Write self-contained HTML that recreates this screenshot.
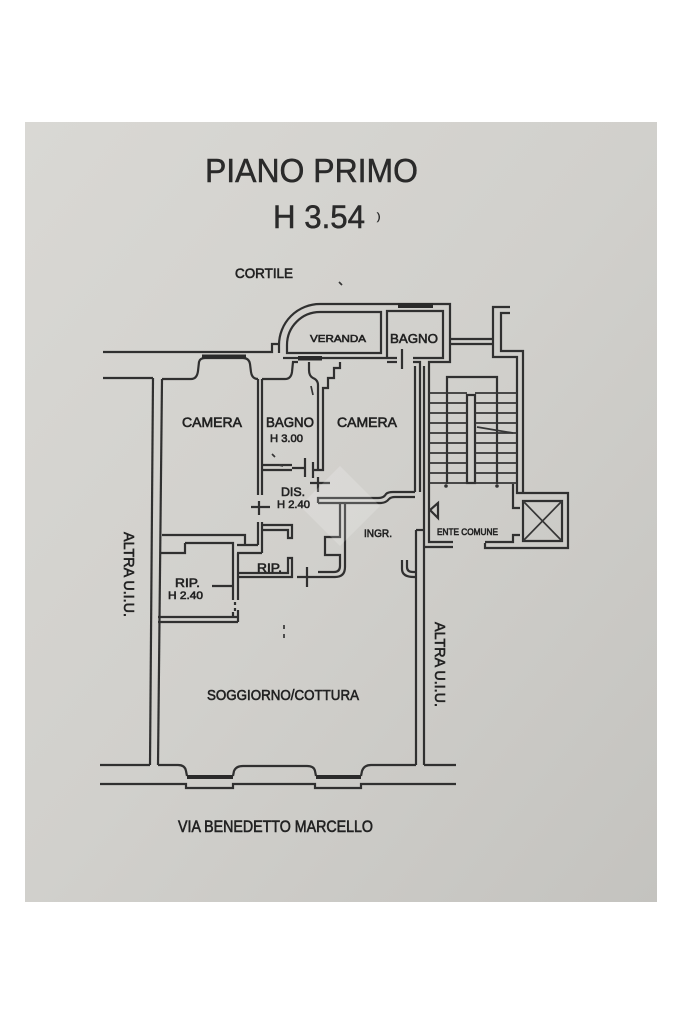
<!DOCTYPE html>
<html>
<head>
<meta charset="utf-8">
<style>
  html,body{margin:0;padding:0;background:#ffffff;}
  body{width:683px;height:1025px;overflow:hidden;}
  svg{display:block;}
  .w{fill:none;stroke:#303030;stroke-width:2.2;stroke-linejoin:miter;}
  .t{fill:none;stroke:#363636;stroke-width:1.7;}
  .lb{font-family:"Liberation Sans",Arial,sans-serif;fill:#222;stroke:#222;stroke-width:0.6;}
  .ti{font-family:"Liberation Sans",Arial,sans-serif;fill:#2a2a2a;stroke:#2a2a2a;stroke-width:0.5;}
</style>
</head>
<body>
<svg width="683" height="1025" viewBox="0 0 683 1025" xmlns="http://www.w3.org/2000/svg">
  <defs>
    <linearGradient id="paper" x1="0" y1="0" x2="1" y2="1">
      <stop offset="0" stop-color="#d9d8d4"/>
      <stop offset="0.5" stop-color="#d1d0cc"/>
      <stop offset="1" stop-color="#c4c3bf"/>
    </linearGradient>
  </defs>
  <rect x="0" y="0" width="683" height="1025" fill="#ffffff"/>
  <rect x="25" y="122" width="632" height="780" fill="url(#paper)"/>

  <!-- Titles -->
  <text class="ti" x="205" y="182" font-size="33" textLength="213" lengthAdjust="spacingAndGlyphs">PIANO PRIMO</text>
  <text class="ti" x="273" y="228" font-size="32" textLength="92" lengthAdjust="spacingAndGlyphs">H 3.54</text>
  <text class="ti" x="377" y="220" font-size="10" stroke-width="0.2">)</text>
  <text class="lb" x="235" y="278" font-size="13.5" textLength="58" lengthAdjust="spacingAndGlyphs">CORTILE</text>
  <path d="M339,282 L342,285" class="t"/>

  <!-- Courtyard facade -->
  <path class="w" d="M103,352 H272 V344 H279"/>
  <path class="w" d="M103,378 H153"/>
  <!-- left exterior wall -->
  <path class="w" d="M153,378 L150,765"/>
  <path class="w" d="M162,379 L158,765"/>
  <!-- left camera top face with window -->
  <path class="w" d="M162,379 H191 Q197,379 198,371 L199,362 Q200,358 205,358 H243 Q249,358 250,364 L251,372 Q252,379 258,379"/>
  <rect x="202" y="354.5" width="44" height="4" fill="#2a2a2a"/>

  <!-- Veranda -->
  <path class="w" d="M279,353 V345 A41,41 0 0 1 320,304 H450 V362 H429 V542 H453"/>
  <path class="w" d="M287,353 V345 A33,33 0 0 1 320,312 H381 V353 Z"/>
  <path class="w" d="M387,358 V311 H443 V358 H413"/>
  <rect x="398" y="303" width="35" height="5" fill="#2a2a2a"/>
  <path class="w" d="M283,358 H298"/>
  <rect x="298" y="356" width="24" height="4.5" fill="#2a2a2a"/>
  <path class="w" d="M322,358 H397"/>
  <path class="w" d="M387,362 H397"/>
  <path class="w" d="M402,349 V369"/>

  <!-- connecting wall and right structure -->
  <path class="w" d="M450,339 H493"/>
  <path class="w" d="M450,344 H493"/>
  <path class="w" d="M510,307 H493 V357 H517 V493 H568 V548 H485 V543"/>
  <path class="w" d="M510,313 H501 V351 H523 V493"/>

  <!-- camera right wall & stair left wall -->
  <path class="w" d="M413,362 H420 V492"/>
  <path class="w" d="M415,366 V492"/>
  <path class="w" d="M424,366 V765"/>

  <!-- stair -->
  <path class="w" d="M447,484 V377 H497 V484"/>
  <rect x="467" y="395" width="8" height="88" class="w"/>
  <path class="t" d="M429,393 H467 M475,393 H517
                     M429,403 H467 M475,403 H517
                     M429,413 H467 M475,413 H517
                     M429,423 H467 M475,423 H517
                     M429,433 H467 M475,433 H517
                     M429,443 H467 M475,443 H517
                     M429,453 H467 M475,453 H517
                     M429,463 H467 M475,463 H517
                     M429,473 H467 M475,473 H517
                     M429,483 H467 M475,483 H517"/>
  <path class="t" d="M477,427 L513,433"/>
  <circle cx="446" cy="486" r="1.8" fill="#333"/>
  <circle cx="497" cy="486" r="1.8" fill="#333"/>

  <!-- Ente comune -->
  <path class="w" d="M424,547 H453"/>
  <path class="w" d="M513,484 V508 H520"/>
  <path class="w" d="M485,542 H513 V535 H520"/>
  <path class="w" d="M523,501 H562 V541 H523 Z"/>
  <path class="t" d="M523,501 L562,541 M562,501 L523,541"/>
  <path class="w" d="M438,503 L430,510 L438,518 Z"/>
  <text class="lb" x="437" y="535" font-size="9" stroke-width="0.45" textLength="61" lengthAdjust="spacingAndGlyphs">ENTE COMUNE</text>

  <!-- Bagno / camera / DIS area -->
  <path class="w" d="M258,379 V495"/>
  <path class="w" d="M262,379 V495"/>
  <path class="w" d="M262,379 H285 Q291,379 292,372 L293,362 H298"/>
  <path class="w" d="M318,470 V392 V385 Q318,380 313,378 Q309,376 309,370 V362"/>
  <path class="w" d="M318,470 H323 V388 H328 V378 H334 V368 H340 V362"/>
  <path class="w" d="M262,465 H292"/>
  <path class="w" d="M262,470 H292"/>
  <path class="w" d="M292,468 H305 M305,458 V477"/>
  <path class="w" d="M313,462 V478 M313,470 H318"/>
  <path class="w" d="M310,483 H330 M318,477 V492"/>
  <path class="w" d="M251,507 H270 M259,501 V515"/>
  <path class="t" d="M272,454 L275,457 M279,465 L283,466 M311,386 L313,395"/>

  <!-- camera right bottom wall -->
  <path class="w" d="M318,503 V498 H378 Q384,498 386,494 Q388,492 393,492 H415"/>
  <path class="w" d="M318,503 H380 Q386,503 389,499 Q391,497 395,497 H415"/>

  <!-- INGR left wall -->
  <path class="w" d="M345,503 V567 Q345,577 335,577 H318"/>
  <path class="w" d="M340,503 V537 H325 V555 H340 V566 Q340,572 334,572 H318"/>
  <path class="w" d="M297,577 H318 M307,567 V587"/>

  <!-- middle RIP -->
  <path class="w" d="M238,573 H288 V558 H292 V577 H238"/>
  <path class="w" d="M262,525 H292 V538 H288 V530 H262"/>
  <path class="w" d="M237,545 H258 M237,553 H262 M258,522 V545 M262,522 V553"/>
  <path class="w" d="M162,535 H245 V545"/>

  <!-- left RIP -->
  <path class="w" d="M185,543 H233 V600"/>
  <path class="w" d="M238,553 V600"/>
  <path class="w" d="M185,543 V553 H161"/>
  <path class="w" d="M158,617 H237"/>
  <path class="w" d="M158,622 H238"/>
  <path class="w" d="M212,586 H233"/>
  <path class="w" d="M235,602 V611" stroke-dasharray="3 3"/>
  <path class="w" d="M233,612 V617 M238,610 V622"/>

  <!-- apartment right wall -->
  <path class="w" d="M416,530 H424"/>
  <path class="w" d="M416,530 V765"/>
  <path class="w" d="M402,560 V569 Q402,577 414,577 H416"/>
  <path class="w" d="M407,560 V567 Q407,572 413,572 H416"/>

  <!-- street facade -->
  <path class="w" d="M100,784 H186 V788 H233 V784 H315 V788 H361 V784 H456"/>
  <path class="w" d="M100,765 H150"/>
  <path class="w" d="M158,765 H178 Q185,765 186,771 L187,776"/>
  <rect x="187" y="775" width="46" height="4" fill="#2a2a2a"/>
  <path class="w" d="M233,776 L234,771 Q236,766 243,766 H307 Q314,766 315,771 L316,776"/>
  <rect x="316" y="775" width="45" height="4" fill="#2a2a2a"/>
  <path class="w" d="M361,776 L362,771 Q364,765 371,765 H416"/>
  <path class="w" d="M424,765 H456"/>

  <!-- soggiorno marks -->
  <path class="t" d="M284,625 V629 M284,634 V638"/>

  <!-- watermark -->
  <polygon points="340,466 380,506 340,546 300,506" fill="#ffffff" opacity="0.18"/>

  <!-- labels -->
  <text class="lb" x="310" y="342" font-size="10.5" textLength="56" lengthAdjust="spacingAndGlyphs">VERANDA</text>
  <text class="lb" x="390" y="343" font-size="13" textLength="48" lengthAdjust="spacingAndGlyphs">BAGNO</text>
  <text class="lb" x="182" y="427" font-size="13.5" textLength="60" lengthAdjust="spacingAndGlyphs">CAMERA</text>
  <text class="lb" x="266" y="427" font-size="13.5" textLength="48" lengthAdjust="spacingAndGlyphs">BAGNO</text>
  <text class="lb" x="270" y="442" font-size="11" textLength="33" lengthAdjust="spacingAndGlyphs">H 3.00</text>
  <text class="lb" x="337" y="427" font-size="13.5" textLength="60" lengthAdjust="spacingAndGlyphs">CAMERA</text>
  <text class="lb" x="281" y="496" font-size="12" textLength="24" lengthAdjust="spacingAndGlyphs">DIS.</text>
  <text class="lb" x="277" y="508" font-size="11" textLength="33" lengthAdjust="spacingAndGlyphs">H 2.40</text>
  <text class="lb" x="364" y="537" font-size="11" textLength="28" lengthAdjust="spacingAndGlyphs">INGR.</text>
  <text class="lb" x="257" y="572" font-size="12" textLength="25" lengthAdjust="spacingAndGlyphs">RIP.</text>
  <text class="lb" x="175" y="587" font-size="12" textLength="25" lengthAdjust="spacingAndGlyphs">RIP.</text>
  <text class="lb" x="168" y="599" font-size="11" textLength="35" lengthAdjust="spacingAndGlyphs">H 2.40</text>
  <text class="lb" x="207" y="700" font-size="14.5" textLength="152" lengthAdjust="spacingAndGlyphs">SOGGIORNO/COTTURA</text>
  <text class="lb" x="178" y="832" font-size="16.5" textLength="195" lengthAdjust="spacingAndGlyphs">VIA BENEDETTO MARCELLO</text>
  <text class="lb" transform="translate(124,532) rotate(90)" x="0" y="0" font-size="15" textLength="85" lengthAdjust="spacingAndGlyphs">ALTRA U.I.U.</text>
  <text class="lb" transform="translate(435,622) rotate(90)" x="0" y="0" font-size="15" textLength="85" lengthAdjust="spacingAndGlyphs">ALTRA U.I.U.</text>
</svg>
</body>
</html>
